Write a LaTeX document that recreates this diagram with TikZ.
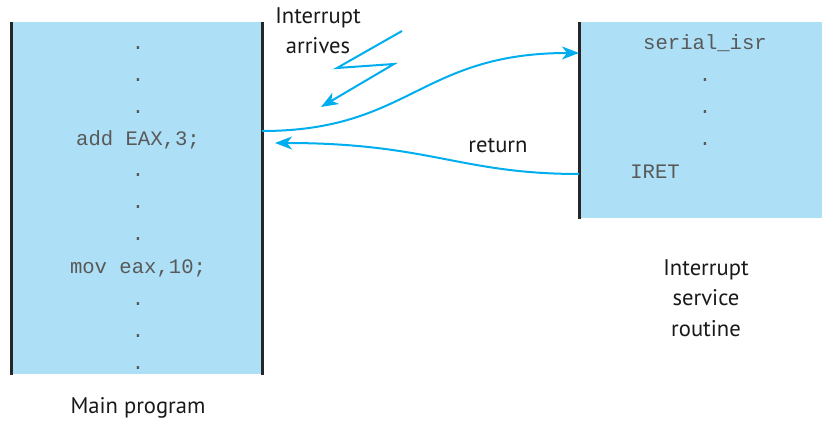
\documentclass[tikz,border=0pt]{standalone}
\usepackage{fontspec}
\setmainfont{PT Sans}
\setmonofont{Liberation Mono}
\usepackage{tikz}
\usetikzlibrary{arrows.meta, positioning}

\definecolor{boxblue}{HTML}{ADE0F6}
\definecolor{flowcyan}{HTML}{00AEEF}

\begin{document}
\begin{tikzpicture}[
    x=0.5pt, y=-0.5pt,
    code box/.style = {
        rectangle,
        fill=boxblue,
        draw=none,
        inner sep=0pt
    },
    side line/.style = {draw=black!85, line width=1.5pt},
    code line/.style = {font=\ttfamily\fontsize{10.3}{12}\selectfont, text=black!65, inner sep=0pt},
    caption/.style = {font=\fontsize{11.3}{15.2}\selectfont, text=black!90, align=center, inner sep=0pt},
    flow/.style = {draw=flowcyan, line width=1pt, -{Stealth[length=8.5pt, width=6.5pt, inset=2.5pt]}}
]
\useasboundingbox (0,0) rectangle (822,421);

% the two blocks of code
\node [code box, minimum width=125.5pt, minimum height=176pt, anchor=north west] (main) at (11,22) {};
\node [code box, minimum width=121.5pt, minimum height=98pt, anchor=north west] (isr) at (579,22) {};

\draw [side line] (main.north west) -- (main.south west);
\draw [side line] (main.north east) -- (main.south east);
\draw [side line] (isr.north west) -- (isr.south west);

% main program lines
\foreach \y [count=\i] in {48, 80, 112, 175, 207, 239, 304, 336, 368}
    \node [code line] (dot\i) at (138,\y) {.};
\node [code line] (add) at (138,140) {add EAX,3;};
\node [code line] (mov) at (138,268) {mov eax,10;};

% service routine lines
\node [code line] (serial) at (705,43) {serial\_isr};
\foreach \y [count=\i] in {80, 112, 144}
    \node [code line] (isrdot\i) at (705,\y) {.};
\node [code line] (iret) at (655,172) {IRET};

% labels
\node [caption] (arrives) at (318,31) {Interrupt\\arrives};
\node [caption] (ret) at (498,146) {return};
\node [caption] (isrlabel) at (706,298) {Interrupt\\service\\routine};
\node [caption] (mainlabel) at (138,408) {Main program};

% interrupt flash
\coordinate (flash1) at (402,31);
\coordinate (flash2) at (337,68);
\coordinate (flash3) at (394,64);
\coordinate (flash4) at (321,107);
\draw [flow] (flash1) -- (flash2) -- (flash3) -- (flash4);

% call and return
\coordinate (callout) at (262,131);
\coordinate (callin) at (579,53);
\coordinate (retout) at (579,174);
\coordinate (retin) at (275,143);
\draw [flow] (callout) .. controls (410,131) and (420,53) .. (callin);
\draw [flow] (retout) .. controls (460,174) and (430,143) .. (retin);

\end{tikzpicture}
\end{document}
